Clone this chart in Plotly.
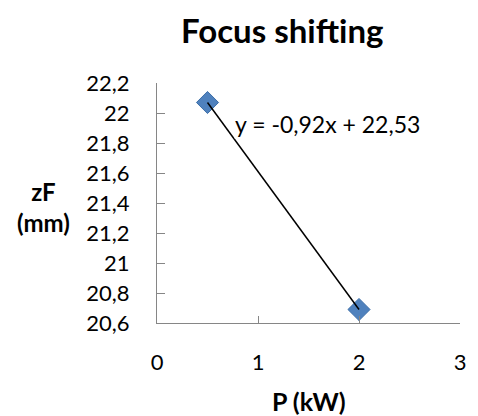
import numpy as np
import plotly.graph_objects as go

# Data
power_kw = [0.5, 2.0]
focus_mm = [22.07, 20.69]
x_ticks = [0, 1, 2, 3]
y_ticks = [20.6, 20.8, 21.0, 21.2, 21.4, 21.6, 21.8, 22.0, 22.2]
title_text = "Focus shifting"
x_title = "P (kW)"
y_title = "zF<br>(mm)"
equation_text = "y = -0,92x + 22,53"

slope, intercept = np.polyfit(power_kw, focus_mm, 1)
trend_x = [min(power_kw), max(power_kw)]
trend_y = [slope * v + intercept for v in trend_x]

FONT = "Lato"
AXIS_COLOR = "#868686"

W, H = 478, 416
L, R, T, B = 157, 16, 83, 93
pw, ph = W - L - R, H - T - B


def px(x):
    return (x - L) / pw


def py(y):
    return (H - y - B) / ph


fig = go.Figure()
fig.add_trace(go.Scatter(
    x=power_kw, y=focus_mm, mode="markers",
    marker=dict(symbol="diamond", size=17, color="#4F81BD",
                line=dict(color="#3C6EA8", width=1)),
    showlegend=False, hoverinfo="skip"))
fig.add_trace(go.Scatter(
    x=trend_x, y=trend_y, mode="lines",
    line=dict(color="black", width=1.5),
    showlegend=False, hoverinfo="skip"))

fig.update_layout(
    width=W, height=H,
    margin=dict(l=L, r=R, t=T, b=B),
    paper_bgcolor="white", plot_bgcolor="white",
    separators=", ",
    font=dict(family=FONT, size=22, color="black"),
    showlegend=False,
    xaxis=dict(range=[0, 3], tickvals=x_ticks, showgrid=False, zeroline=False,
               showline=True, linecolor=AXIS_COLOR, linewidth=1.3,
               ticks="inside", ticklen=7, tickcolor=AXIS_COLOR, tickwidth=1.3,
               ticklabelstandoff=19, tickfont=dict(size=22)),
    yaxis=dict(range=[20.6, 22.2], tickvals=y_ticks, showgrid=False, zeroline=False,
               showline=True, linecolor=AXIS_COLOR, linewidth=1.3,
               ticks="inside", ticklen=8, tickcolor=AXIS_COLOR, tickwidth=1.3,
               ticklabelstandoff=22, tickfont=dict(size=22)),
    annotations=[
        dict(text="<b>%s</b>" % title_text, x=px(283), y=py(30), xref="paper", yref="paper",
             showarrow=False, font=dict(size=33, family=FONT), xanchor="center", yanchor="middle"),
        dict(text="<b>%s</b>" % x_title, x=px(310), y=py(401), xref="paper", yref="paper",
             showarrow=False, font=dict(size=25, family=FONT), xanchor="center", yanchor="middle"),
        dict(text="<b>%s</b>" % y_title, x=px(43), y=py(207), xref="paper", yref="paper",
             showarrow=False, font=dict(size=24, family=FONT), xanchor="center", yanchor="middle"),
        dict(text=equation_text, x=1.69, y=21.93, xref="x", yref="y", showarrow=False,
             font=dict(size=23, family=FONT), xanchor="center", yanchor="middle",
             bgcolor="white", borderpad=0),
    ],
)

fig.write_html("out.html")
